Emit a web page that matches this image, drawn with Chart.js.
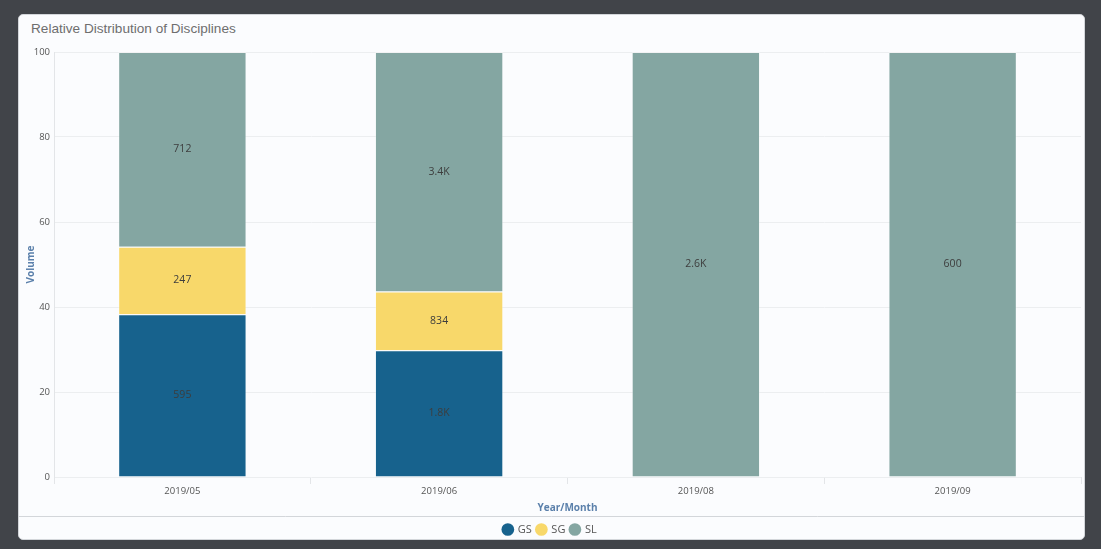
<!DOCTYPE html>
<html>
<head>
<meta charset="utf-8">
<script src="https://cdn.jsdelivr.net/npm/chart.js@4.4.1/dist/chart.umd.min.js"></script>
<style>
  html, body { margin: 0; padding: 0; }
  body {
    width: 1101px; height: 549px; overflow: hidden;
    background: #414449;
    position: relative;
  }
  .card {
    position: absolute; left: 18px; top: 14px;
    width: 1065px; height: 524px;
    background: #fbfcfe;
    border: 1px solid #d3d6da;
    border-radius: 5px;
    overflow: hidden;
  }
  .title {
    position: absolute; left: 12px; top: 6px;
    font-family: 'Liberation Sans', Arial, sans-serif;
    font-size: 13.6px; color: #6e6e6e;
  }
  .wrap {
    position: absolute; left: 0px; top: 25px;
    width: 1065px; height: 505px;
  }
</style>
</head>
<body>
<div class="card">
  <div class="title">Relative Distribution of Disciplines</div>
  <div class="wrap"><canvas id="chart"></canvas></div>
</div>
<script>
const months = ['2019/05', '2019/06', '2019/08', '2019/09'];
const gsCounts = [595, 1800, 0, 0];
const sgCounts = [247, 834, 0, 0];
const slCounts = [712, 3400, 2600, 600];
const yTicks = [0, 20, 40, 60, 80, 100];

const totals = months.map((m, i) => gsCounts[i] + sgCounts[i] + slCounts[i]);
const pct = (arr) => arr.map((v, i) => v / totals[i] * 100);

function fmt(v) {
    if (v >= 1000) return (v / 1000).toFixed(1) + 'K';
    return String(v);
}

const segLabels = {
    id: 'segLabels',
    afterDatasetsDraw(chart) {
        const ctx = chart.ctx;
        ctx.save();
        ctx.font = '10.5px "Open Sans", sans-serif';
        ctx.fillStyle = '#3d3d3d';
        ctx.textAlign = 'center';
        ctx.textBaseline = 'middle';
        chart.data.datasets.forEach((ds, di) => {
            const meta = chart.getDatasetMeta(di);
            meta.data.forEach((bar, i) => {
                const c = ds.counts[i];
                if (!c) return;
                ctx.fillText(fmt(c), bar.x, (bar.y + bar.base) / 2);
            });
        });
        ctx.restore();
    }
};

// thin rule between the axis title and the legend
const legendLine = {
    id: 'legendLine',
    afterDraw(chart) {
        const ctx = chart.ctx;
        const y = Math.round(chart.legend.top) - 2.5;
        ctx.save();
        ctx.strokeStyle = '#d3d6da';
        ctx.lineWidth = 1;
        ctx.beginPath();
        ctx.moveTo(0, y);
        ctx.lineTo(chart.width, y);
        ctx.stroke();
        ctx.restore();
    }
};

const tickFont = { family: '"Open Sans", sans-serif', size: 9.5 };
const axisTitleFont = { family: '"Open Sans", sans-serif', size: 10, weight: 'bold' };
const edge = 'rgba(255,255,255,0.3)';

const cfg = {
    type: 'bar',
    data: {
        labels: months,
        datasets: [
        {
            label: 'GS',
            data: pct(gsCounts),
            counts: gsCounts,
            backgroundColor: '#17628d',
            borderColor: edge,
            borderWidth: 1,
            barPercentage: 0.5,
            categoryPercentage: 1,
        },
        {
            label: 'SG',
            data: pct(sgCounts),
            counts: sgCounts,
            backgroundColor: '#f8d86a',
            borderColor: edge,
            borderWidth: 1,
            barPercentage: 0.5,
            categoryPercentage: 1,
        },
        {
            label: 'SL',
            data: pct(slCounts),
            counts: slCounts,
            backgroundColor: '#84a6a2',
            borderColor: edge,
            borderWidth: 1,
            barPercentage: 0.5,
            categoryPercentage: 1,
        },
        ],
    },
    options: {
        responsive: true,
        maintainAspectRatio: false,
        animation: false,
        layout: { padding: { left: 0, right: 3, top: 12, bottom: 0 } },
        plugins: {
            tooltip: { enabled: false },
            legend: {
                position: 'bottom',
                labels: {
                    usePointStyle: true,
                    pointStyle: 'circle',
                    boxWidth: 9,
                    boxHeight: 9,
                    padding: 5,
                    color: '#555',
                    font: { family: '"Open Sans", sans-serif', size: 11 },
                    generateLabels(chart) {
                        return chart.data.datasets.map((ds, i) => ({
                            text: ds.label,
                            fillStyle: ds.backgroundColor,
                            strokeStyle: ds.backgroundColor,
                            lineWidth: 0,
                            pointStyle: 'circle',
                            fontColor: '#555',
                            datasetIndex: i,
                            hidden: false,
                        }));
                    }
                }
            }
        },
        scales: {
            x: {
                stacked: true,
                afterFit(scale) { scale.height = 42; },
                grid: {
                    offset: true,
                    drawOnChartArea: false,
                    tickLength: 7,
                    color: '#e3e5e8',
                },
                border: { display: false },
                ticks: { color: '#555', font: tickFont, padding: 2 },
                title: {
                    display: true,
                    text: 'Year/Month',
                    color: '#5b80ab',
                    font: axisTitleFont,
                    padding: { top: 0, bottom: 5 },
                }
            },
            y: {
                stacked: true,
                min: 0,
                max: 100,
                afterFit(scale) { scale.width = 35; },
                afterBuildTicks(scale) { scale.ticks = yTicks.map(v => ({ value: v })); },
                grid: { color: '#eceef0', drawTicks: false },
                border: { display: true, color: '#e3e5e8' },
                ticks: { color: '#555', font: tickFont, padding: 4 },
                title: {
                    display: true,
                    text: 'Volume',
                    color: '#5b80ab',
                    font: axisTitleFont,
                    padding: { top: 6, bottom: 0 },
                }
            }
        }
    },
    plugins: [segLabels, legendLine]
};

new Chart(document.getElementById('chart'), cfg);
</script>
</body>
</html>
